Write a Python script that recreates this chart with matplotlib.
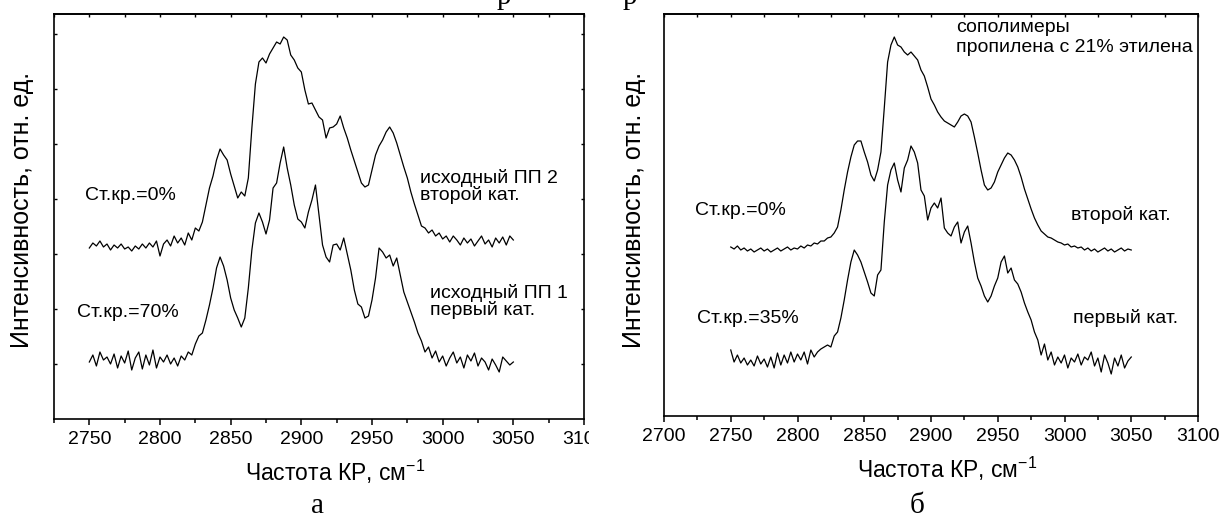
import numpy as np
import matplotlib
matplotlib.use('Agg')
import matplotlib.pyplot as plt
from matplotlib.ticker import MultipleLocator, NullFormatter
from matplotlib.transforms import Bbox, TransformedBbox

plt.rcParams['font.family'] = ['Liberation Sans', 'DejaVu Sans']
plt.rcParams['mathtext.fontset'] = 'custom'
plt.rcParams['mathtext.rm'] = 'Liberation Sans'
plt.rcParams['mathtext.it'] = 'Liberation Sans:italic'

W, H = 1221, 520

# Raman shift grid, cm-1 (digitised every 2.5 cm-1)
shift = np.arange(2750, 3050.1, 2.5)

# panel a: исходный ПП 2 (второй кат., Ст.кр.=0%) and ПП 1 (первый кат., 70%)
pp2 = [172, 177, 174, 179, 173, 176, 170, 175, 172, 176,
       171, 173, 169, 174, 171, 176, 172, 177, 173, 179,
       164, 176, 180, 174, 184, 177, 182, 175, 187, 180,
       192, 189, 198, 215, 232, 244, 260, 271, 265, 260,
       246, 234, 222, 228, 224, 242, 292, 336, 358, 362,
       357, 366, 372, 378, 376, 383, 380, 365, 360, 352,
       348, 330, 316, 317, 310, 303, 300, 282, 292, 293,
       296, 304, 292, 282, 270, 259, 248, 237, 233, 235,
       250, 265, 274, 280, 288, 293, 287, 277, 265, 253,
       242, 228, 216, 205, 194, 192, 187, 190, 184, 187,
       181, 184, 178, 184, 180, 175, 182, 177, 181, 174,
       179, 184, 176, 180, 173, 182, 177, 183, 175, 184,
       180]
pp1 = [58, 65, 54, 68, 60, 63, 56, 66, 52, 64,
       57, 69, 50, 62, 68, 51, 65, 55, 70, 52,
       63, 58, 65, 56, 62, 54, 64, 60, 68, 65,
       76, 84, 87, 100, 115, 132, 152, 163, 154, 140,
       122, 110, 102, 93, 102, 132, 170, 197, 207, 198,
       186, 200, 232, 237, 257, 273, 252, 235, 215, 201,
       198, 192, 208, 220, 235, 205, 175, 163, 158, 175,
       176, 170, 182, 166, 150, 130, 116, 113, 102, 104,
       120, 142, 172, 168, 162, 165, 154, 162, 145, 128,
       118, 108, 98, 87, 79, 68, 73, 62, 69, 58,
       64, 54, 62, 68, 57, 63, 52, 65, 59, 67,
       54, 62, 58, 50, 61, 55, 48, 63, 59, 55,
       58]

# panel b: сополимеры, второй кат. (0%) and первый кат. (35%)
cop2 = [173, 171, 174, 170, 172, 169, 171, 168, 170, 172,
        169, 171, 168, 170, 172, 169, 171, 173, 170, 172,
        171, 174, 172, 175, 174, 177, 176, 179, 179, 182,
        183, 187, 193, 210, 230, 248, 263, 275, 279, 279,
        268, 258, 245, 239, 250, 268, 312, 358, 375, 383,
        375, 373, 368, 365, 368, 364, 360, 350, 344, 333,
        321, 315, 308, 303, 299, 297, 295, 293, 298, 304,
        306, 304, 298, 283, 267, 250, 235, 230, 232, 238,
        248, 255, 262, 267, 265, 260, 253, 243, 231, 221,
        211, 202, 195, 189, 186, 183, 182, 180, 178, 177,
        175, 176, 173, 174, 172, 173, 170, 172, 169, 171,
        168, 170, 172, 169, 171, 168, 170, 172, 169, 171,
        170]
cop1 = [70, 58, 65, 57, 62, 55, 60, 54, 64, 56,
        61, 53, 63, 52, 67, 55, 65, 57, 68, 58,
        66, 60, 68, 56, 70, 63, 68, 71, 73, 75,
        73, 84, 88, 102, 120, 140, 158, 170, 165, 158,
        148, 138, 127, 124, 145, 150, 198, 235, 250, 257,
        240, 228, 252, 260, 274, 268, 257, 230, 224, 200,
        212, 217, 212, 222, 192, 187, 184, 193, 198, 177,
        188, 194, 177, 158, 142, 134, 124, 118, 124, 134,
        142, 158, 164, 147, 152, 140, 136, 128, 117, 108,
        100, 88, 80, 65, 76, 60, 68, 55, 63, 57,
        65, 52, 62, 58, 66, 55, 63, 60, 68, 54,
        62, 48, 65, 57, 46, 62, 54, 65, 52, 59,
        63]

FS_TICK = 14
FS_NOTE = 14
FS_XLABEL = 16.5
FS_YLABEL = 18


def style_axes(ax, xlim, ylim, yticks):
    ax.set_xlim(*xlim)
    ax.set_ylim(*ylim)
    for sp in ax.spines.values():
        sp.set_linewidth(1.2)
    ax.xaxis.set_major_locator(MultipleLocator(50))
    ax.xaxis.set_minor_locator(MultipleLocator(25))
    ax.tick_params(axis='x', which='major', direction='out', length=4.5,
                   width=1.1, pad=4, labelsize=FS_TICK, top=False)
    ax.tick_params(axis='x', which='minor', direction='out', length=2.8,
                   width=1.1, top=False)
    ax.set_yticks(yticks)
    ax.tick_params(axis='y', which='both', direction='in', length=2.5,
                   width=1.0, left=True, right=True, labelleft=False)
    top = ax.secondary_xaxis('top')
    top.xaxis.set_major_locator(MultipleLocator(50))
    top.xaxis.set_minor_locator(MultipleLocator(25))
    top.xaxis.set_major_formatter(NullFormatter())
    top.tick_params(which='both', direction='in', length=2.2, width=1.0)
    top.spines['top'].set_linewidth(1.2)


fig = plt.figure(figsize=(W / 100, H / 100), dpi=100)

ax_a = fig.add_axes([54 / W, 1 - 419 / H, 530 / W, 405 / H])
ax_a.plot(shift, pp2, color='black', lw=0.9)
ax_a.plot(shift, pp1, color='black', lw=0.9)
style_axes(ax_a, (2725, 3100), (1, 406), np.arange(56, 406, 55))

ax_a.text(2747, 220, 'Ст.кр.=0%', fontsize=FS_NOTE, va='baseline')
ax_a.text(2741, 103, 'Ст.кр.=70%', fontsize=FS_NOTE, va='baseline')
ax_a.text(2984, 237, 'исходный ПП 2', fontsize=FS_NOTE, va='baseline')
ax_a.text(2984, 220, 'второй кат.', fontsize=FS_NOTE, va='baseline')
ax_a.text(2991, 122, 'исходный ПП 1', fontsize=FS_NOTE, va='baseline')
ax_a.text(2991, 105, 'первый кат.', fontsize=FS_NOTE, va='baseline')

ax_b = fig.add_axes([664 / W, 1 - 416 / H, 534 / W, 402 / H])
ax_b.plot(shift, cop2, color='black', lw=0.9)
ax_b.plot(shift, cop1, color='black', lw=0.9)
style_axes(ax_b, (2700, 3100), (4, 406), [])

ax_b.text(2919, 388, 'сополимеры', fontsize=FS_NOTE, va='baseline')
ax_b.text(2919, 368, 'пропилена с 21% этилена', fontsize=FS_NOTE, va='baseline')
ax_b.text(2723, 205, 'Ст.кр.=0%', fontsize=FS_NOTE, va='baseline')
ax_b.text(3005, 200, 'второй кат.', fontsize=FS_NOTE, va='baseline')
ax_b.text(2725, 97, 'Ст.кр.=35%', fontsize=FS_NOTE, va='baseline')
ax_b.text(3006, 97, 'первый кат.', fontsize=FS_NOTE, va='baseline')

# left panel was cropped in the source: the "3100" label is cut off
clip = TransformedBbox(Bbox([[0, 0], [589 / W, 1]]), fig.transFigure)
for lbl in ax_a.get_xticklabels():
    lbl.set_clip_box(clip)
    lbl.set_clip_on(True)

# axis titles
ylab = 'Интенсивность, отн. ед.'
xlab = r'Частота КР, см$^{-1}$'
fig.text(22 / W, 1 - 210 / H, ylab, rotation=90, ha='center', va='center',
         fontsize=FS_YLABEL)
fig.text(634 / W, 1 - 210 / H, ylab, rotation=90, ha='center', va='center',
         fontsize=FS_YLABEL)
fig.text(335 / W, 1 - 481 / H, xlab, ha='center', va='baseline',
         fontsize=FS_XLABEL)
fig.text(947 / W, 1 - 478 / H, xlab, ha='center', va='baseline',
         fontsize=FS_XLABEL)

# panel captions and remnants of the page text above
serif = ['Liberation Serif', 'DejaVu Serif']
fig.text(318 / W, 1 - 513 / H, 'а', family=serif, fontsize=21,
         ha='center', va='baseline')
fig.text(917 / W, 1 - 513 / H, 'б', family=serif, fontsize=21,
         ha='center', va='baseline')
fig.text(504 / W, 1 - 4 / H, 'р', family=serif, fontsize=21,
         ha='center', va='baseline')
fig.text(630 / W, 1 - 4 / H, 'р', family=serif, fontsize=21,
         ha='center', va='baseline')

fig.savefig('out.png', dpi=100)
